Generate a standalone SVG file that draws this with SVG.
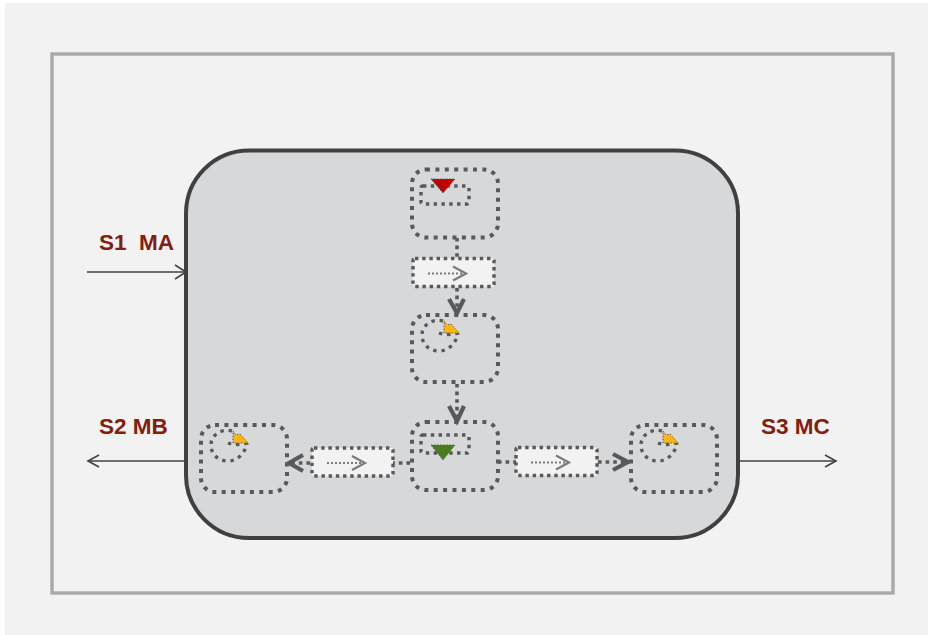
<svg xmlns="http://www.w3.org/2000/svg" width="928" height="635" viewBox="0 0 928 635">
<style>
text{font-family:"Liberation Sans",Arial,sans-serif;font-weight:700;font-size:22.500px;fill:#7f2010}
.node{fill:none;stroke:#595959;stroke-width:4;stroke-dasharray:4 5.400}
.inner{fill:none;stroke:#595959;stroke-width:3.400;stroke-dasharray:3.400 4.400}
.ring{fill:none;stroke:#595959;stroke-width:3.400;stroke-dasharray:3.400 4.800}
.box{fill:#f2f2f2;stroke:#595959;stroke-width:3.400;stroke-dasharray:3.400 3.800}
.thin{fill:none;stroke:#404040;stroke-width:1.600}
.flow{fill:none;stroke:#595959;stroke-width:3.600;stroke-dasharray:3.600 4}
.head{fill:none;stroke:#595959;stroke-width:4.200}
.hint{fill:none;stroke:#7a7a7a;stroke-width:2;stroke-dasharray:2 2}
.hinthead{fill:none;stroke:#7a7a7a;stroke-width:2.200}
.tri{stroke:#595959;stroke-width:1;stroke-dasharray:1.500 1.500}
</style>
<defs>
<g id="arrowbox">
<rect class="box" x="0" y="0" width="81" height="28" rx="2"/>
<path class="hint" d="M15 15H50"/>
<path class="hinthead" d="M40 8L53 15L40 22"/>
</g>
<g id="swirl">
<rect class="node" x="0" y="0" width="86" height="67" rx="14"/>
<path class="ring" d="M31 6C19 3 10 11 10 20C10 30 18 36 27 36C36 36 44 29 46 18"/>
<path class="ring" d="M27 18C32 20 40 20 46 18"/>
<path class="tri" fill="#ffb60f" d="M32 6L35 10L39 9L47 18L32 18Z"/>
</g>
</defs>
<rect width="928" height="635" fill="#fff"/>
<rect x="5" y="3" width="923" height="632" fill="#f2f2f2"/>
<rect x="52" y="54" width="841" height="539" fill="none" stroke="#a9a9a9" stroke-width="3.400"/>
<g id="container">
<rect x="186" y="150.500" width="552" height="387.500" rx="63" fill="#d7d8da" stroke="#404040" stroke-width="4"/>
</g>
<g id="connectors">
<path class="flow" d="M457 238V258"/>
<path class="flow" d="M457 288V312"/>
<path class="head" d="M449 299L457 313L464 299"/>
<path class="flow" d="M457 384V420"/>
<path class="head" d="M449 406L457 421L464 406"/>
<path class="flow" d="M410 463H393"/>
<path class="flow" d="M310 463H290"/>
<path class="head" d="M303 455L289 463L303 471"/>
<path class="flow" d="M498 462H516"/>
<path class="flow" d="M598 462H628"/>
<path class="head" d="M613 454L628 462L613 470"/>
<path class="thin" d="M87 272H186"/>
<path class="thin" d="M175 265L186 272L175 279"/>
<path class="thin" d="M186 461H88"/>
<path class="thin" d="M99 455L88 461L99 467"/>
<path class="thin" d="M740 461H835"/>
<path class="thin" d="M825 455L836 461L825 467"/>
</g>
<g id="node-top">
<rect class="node" x="412" y="169.500" width="86" height="68" rx="14"/>
<rect class="inner" x="421" y="186" width="48" height="18" rx="2"/>
<path class="tri" fill="#c00000" d="M431 179H455L443 193Z"/>
</g>
<g id="box-top"><use href="#arrowbox" x="413" y="258.500"/></g>
<g id="node-mid"><use href="#swirl" x="412" y="315"/></g>
<g id="node-bottom">
<rect class="node" x="412" y="422" width="86" height="68" rx="14"/>
<rect class="inner" x="421" y="435" width="48" height="18" rx="2"/>
<path class="tri" fill="#4a7d1e" d="M431 445H455L443 460Z"/>
</g>
<g id="node-left"><use href="#swirl" x="201" y="425"/></g>
<g id="box-left"><use href="#arrowbox" x="312" y="448"/></g>
<g id="box-right"><use href="#arrowbox" x="516" y="447.500"/></g>
<g id="node-right"><use href="#swirl" x="631" y="425"/></g>
<g id="label-s1"><text x="99" y="250" xml:space="preserve">S1  MA</text></g>
<g id="label-s2"><text x="99" y="434">S2 MB</text></g>
<g id="label-s3"><text x="761" y="434">S3 MC</text></g>
</svg>
